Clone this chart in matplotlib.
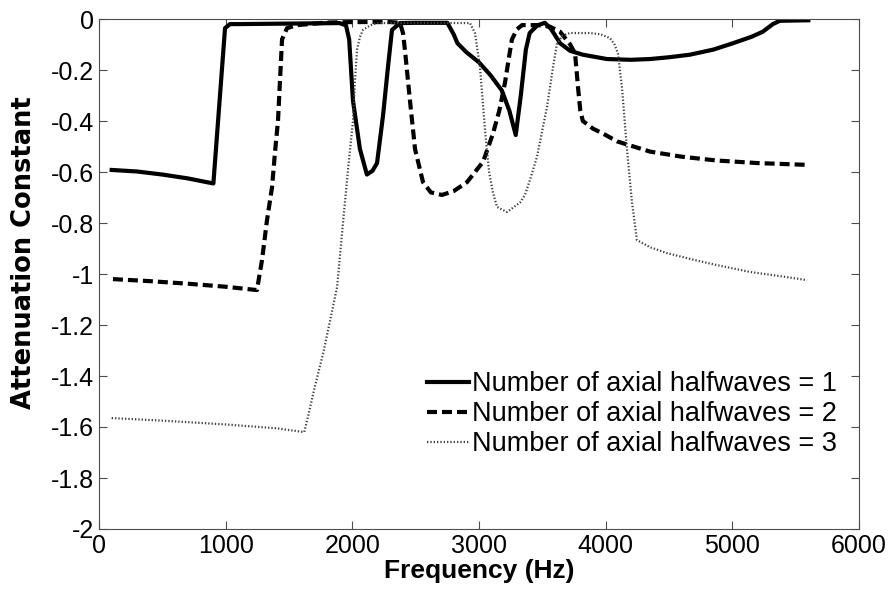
import numpy as np
import matplotlib
matplotlib.use("Agg")
from matplotlib import pyplot as plt

### DATA ######################################################################

# number of axial halfwaves = 1 (solid)
freq1 = [100, 300, 500, 700, 903, 995, 1034, 1100, 1500, 1900, 1950, 1975,
         1990, 2005, 2060, 2115, 2160, 2195, 2242, 2281, 2313, 2376, 2500,
         2750, 2800, 2830, 2900, 3000, 3090, 3180, 3240, 3290, 3330, 3370,
         3400, 3460, 3520, 3570, 3640, 3720, 3820, 4010, 4200, 4350, 4500,
         4665, 4850, 5005, 5150, 5240, 5320, 5375, 5600]
att1 = [-0.592, -0.598, -0.610, -0.625, -0.645, -0.036, -0.02, -0.02, -0.018,
        -0.016, -0.025, -0.08, -0.2, -0.32, -0.51, -0.61, -0.595, -0.565,
        -0.38, -0.19, -0.043, -0.016, -0.015, -0.015, -0.06, -0.095, -0.13,
        -0.17, -0.22, -0.28, -0.36, -0.455, -0.30, -0.12, -0.055, -0.025,
        -0.015, -0.04, -0.095, -0.125, -0.14, -0.157, -0.16, -0.157, -0.15,
        -0.14, -0.12, -0.095, -0.07, -0.05, -0.02, -0.007, -0.005]

# number of axial halfwaves = 2 (dashed)
freq2 = [110, 400, 700, 1000, 1247, 1287, 1326, 1366, 1389, 1413, 1445, 1484,
         1563, 1800, 2000, 2300, 2376, 2400, 2415, 2455, 2495, 2558, 2620,
         2708, 2800, 2905, 3032, 3110, 3160, 3205, 3240, 3260, 3300, 3340,
         3458, 3560, 3640, 3720, 3758, 3770, 3782, 3800, 3820, 3900, 4000,
         4090, 4350, 4600, 4878, 5200, 5590]
att2 = [-1.020, -1.028, -1.038, -1.05, -1.063, -0.945, -0.79, -0.66, -0.525,
        -0.40, -0.08, -0.036, -0.024, -0.014, -0.012, -0.012, -0.015, -0.055,
        -0.12, -0.32, -0.51, -0.64, -0.68, -0.69, -0.675, -0.64, -0.56, -0.45,
        -0.36, -0.25, -0.14, -0.08, -0.04, -0.024, -0.024, -0.03, -0.05,
        -0.10, -0.135, -0.20, -0.27, -0.36, -0.40, -0.43, -0.455, -0.48,
        -0.52, -0.54, -0.555, -0.565, -0.572]

# number of axial halfwaves = 3 (dotted)
freq3 = [100, 500, 1000, 1400, 1620, 1650, 1700, 1770, 1830, 1880, 1928, 1966,
         2005, 2020, 2037, 2060, 2084, 2140, 2195, 2500, 2929, 2968, 3008,
         3050, 3080, 3110, 3142, 3221, 3324, 3363, 3403, 3458, 3537, 3584,
         3616, 3660, 3718, 3876, 3960, 4034, 4070, 4097, 4129, 4168, 4208,
         4247, 4350, 4484, 4700, 4878, 5140, 5400, 5590]
att3 = [-1.565, -1.575, -1.59, -1.605, -1.62, -1.56, -1.45, -1.31, -1.17,
        -1.05, -0.79, -0.59, -0.40, -0.25, -0.12, -0.07, -0.043, -0.025,
        -0.016, -0.015, -0.016, -0.055, -0.19, -0.45, -0.60, -0.68, -0.737,
        -0.757, -0.72, -0.69, -0.63, -0.54, -0.345, -0.19, -0.095, -0.065,
        -0.055, -0.055, -0.06, -0.075, -0.10, -0.135, -0.27, -0.51, -0.72,
        -0.867, -0.895, -0.918, -0.945, -0.965, -0.992, -1.01, -1.024]

labels = ['Number of axial halfwaves = 1',
          'Number of axial halfwaves = 2',
          'Number of axial halfwaves = 3']

### PLOT ######################################################################

plt.rcParams['font.family'] = ['Liberation Sans', 'DejaVu Sans']

fig = plt.figure(figsize=(8.93, 5.96), dpi=100)
ax = fig.add_axes([99/893, 1 - 529/596, 760/893, 510/596])

ax.plot(freq1, att1, color='k', linestyle='-', linewidth=3, label=labels[0])
ax.plot(freq2, att2, color='k', linestyle=(0, (2.4, 1.2)), linewidth=3,
        label=labels[1])
ax.plot(freq3, att3, color='0.25', linestyle=(0, (0.6, 0.9)), linewidth=1.6,
        label=labels[2])

ax.set_xlim(0, 6000)
ax.set_ylim(-2, 0)
ax.set_xticks(np.arange(0, 6001, 1000))
ax.set_yticks(np.arange(-2, 0.01, 0.2))
ax.set_yticklabels(['-2', '-1.8', '-1.6', '-1.4', '-1.2', '-1', '-0.8',
                    '-0.6', '-0.4', '-0.2', '0'])
ax.tick_params(direction='in', top=True, right=True, length=6, width=0.8,
               labelsize=18, color='0.3')
for s in ax.spines.values():
    s.set_color('0.3')

ax.set_xlabel('Frequency (Hz)', fontsize=19, fontweight='bold', labelpad=1)
ax.set_ylabel('Attenuation Constant', fontsize=18.5, fontweight='bold',
              family='DejaVu Sans')
# label sits a bit above centre in the original
ax.yaxis.set_label_coords(-0.082, 0.541)

ax.legend(loc='lower right', bbox_to_anchor=(0.985, 0.119), frameon=False,
          fontsize=19.5, handlelength=1.55, handletextpad=0.1,
          labelspacing=0.15, borderaxespad=0)

fig.savefig('out.png', dpi=100)
